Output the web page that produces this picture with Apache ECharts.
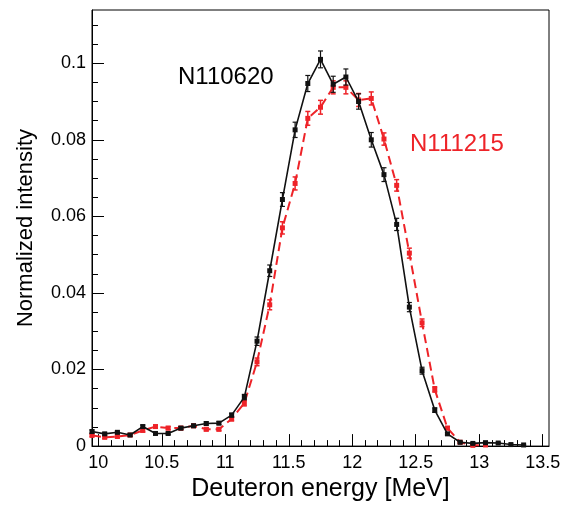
<!DOCTYPE html>
<html lang="en">
  <head>
    <meta charset="UTF-8" />
    <title>Deuteron energy spectra</title>
    <script src="https://cdn.jsdelivr.net/npm/echarts@6/dist/echarts.min.js"></script>
    <style>
      html, body { margin: 0; padding: 0; background: #fff; }
    </style>
  </head>
  <body>
    <div id="main" style="width: 572px; height: 507px"></div>
    <script>
      // bin centres [MeV]
      var energyA = [9.95, 10.05, 10.15, 10.25, 10.35, 10.45, 10.55, 10.65, 10.75, 10.85,
        10.95, 11.05, 11.15, 11.25, 11.35, 11.45, 11.55, 11.65, 11.75, 11.85,
        11.95, 12.05, 12.15, 12.25, 12.35, 12.45, 12.55, 12.65, 12.75, 12.85,
        12.95, 13.05, 13.15, 13.25, 13.35];
      var energyB = [9.95, 10.05, 10.15, 10.25, 10.35, 10.45, 10.55, 10.65, 10.75, 10.85,
        10.95, 11.05, 11.15, 11.25, 11.35, 11.45, 11.55, 11.65, 11.75, 11.85,
        11.95, 12.05, 12.15, 12.25, 12.35, 12.45, 12.55, 12.65, 12.75, 12.85,
        12.95, 13.05];

      // N110620 (black)
      var valuesA = [0.0038, 0.0032, 0.0036, 0.0029, 0.0051, 0.0033, 0.0033, 0.0047, 0.0053, 0.0059,
        0.0060, 0.0081, 0.0128, 0.0274, 0.0458, 0.0644, 0.0826, 0.0947, 0.1010, 0.0945,
        0.0964, 0.0900, 0.0800, 0.0709, 0.0579, 0.0363, 0.0197, 0.0094, 0.0032, 0.0010,
        0.0007, 0.0009, 0.0008, 0.0004, 0.0003];
      var errorsA = [0.0004, 0.0003, 0.0003, 0.0003, 0.0004, 0.0003, 0.0003, 0.0004, 0.0004, 0.0004,
        0.0004, 0.0005, 0.0007, 0.0011, 0.0015, 0.0018, 0.0020, 0.0021, 0.0022, 0.0021,
        0.0021, 0.0020, 0.0019, 0.0018, 0.0016, 0.0012, 0.0009, 0.0006, 0.0003, 0.0002,
        0.0002, 0.0002, 0.0002, 0.0001, 0.0001];

      // N111215 (red)
      var valuesB = [0.0028, 0.0023, 0.0025, 0.0029, 0.0041, 0.0051, 0.0047, 0.0047, 0.0053, 0.0044,
        0.0044, 0.0071, 0.0112, 0.0220, 0.0369, 0.0570, 0.0686, 0.0856, 0.0885, 0.0937,
        0.0937, 0.0904, 0.0908, 0.0802, 0.0681, 0.0504, 0.0322, 0.0148, 0.0047, 0.0010,
        0.0002, 0.0003];
      var errorsB = [0.0003, 0.0003, 0.0003, 0.0003, 0.0004, 0.0004, 0.0004, 0.0004, 0.0004, 0.0004,
        0.0004, 0.0005, 0.0007, 0.0010, 0.0013, 0.0016, 0.0017, 0.0018, 0.0018, 0.0017,
        0.0017, 0.0017, 0.0017, 0.0016, 0.0015, 0.0013, 0.0010, 0.0007, 0.0004, 0.0002,
        0.0001, 0.0001];

      var xMajor = [10, 10.5, 11, 11.5, 12, 12.5, 13, 13.5];
      var xMinor = [];
      for (var i = 100; i <= 135; i++) xMinor.push(i / 10);
      var yMajor = [0, 0.02, 0.04, 0.06, 0.08, 0.1];
      var yMinor = [];
      for (var j = 0; j <= 22; j++) yMinor.push(j * 0.005);

      var FONT = "'Liberation Sans', Arial, sans-serif";
      var BLACK = "#111111";
      var RED = "#ee2328";

      function pairs(xs, ys) {
        return xs.map(function (x, k) { return [x, ys[k]]; });
      }
      function triples(xs, ys, es) {
        return xs.map(function (x, k) { return [x, ys[k], es[k]]; });
      }

      function errorBars(color, width) {
        return function (params, api) {
          var x = api.value(0), y = api.value(1), e = api.value(2);
          var lo = api.coord([x, y - e]);
          var hi = api.coord([x, y + e]);
          var c = 2.5;
          var st = { stroke: color, lineWidth: width };
          return {
            type: "group",
            children: [
              { type: "line", shape: { x1: lo[0], y1: lo[1], x2: hi[0], y2: hi[1] }, style: st },
              { type: "line", shape: { x1: lo[0] - c, y1: lo[1], x2: lo[0] + c, y2: lo[1] }, style: st },
              { type: "line", shape: { x1: hi[0] - c, y1: hi[1], x2: hi[0] + c, y2: hi[1] }, style: st }
            ]
          };
        };
      }

      var myChart = echarts.init(document.getElementById("main"));

      var option = {
        animation: false,
        backgroundColor: "#fff",
        textStyle: { fontFamily: FONT },
        grid: {
          left: 92, right: 23, top: 10, bottom: 59,
          show: true, borderColor: "#000", borderWidth: 1, backgroundColor: "transparent"
        },
        xAxis: [
          {
            type: "value", min: 9.95, max: 13.55, position: "bottom",
            axisLine: { show: true, lineStyle: { color: "#000", width: 1 } },
            axisTick: { show: true, inside: true, length: 12, customValues: xMajor, lineStyle: { color: "#000" } },
            axisLabel: { customValues: xMajor, fontSize: 18, color: "#000", margin: 8, fontFamily: FONT },
            splitLine: { show: false },
            name: "Deuteron energy [MeV]", nameLocation: "middle", nameGap: 29,
            nameTextStyle: { fontSize: 25, color: "#000", fontFamily: FONT }
          },
          {
            type: "value", min: 9.95, max: 13.55, position: "bottom",
            axisLine: { show: false },
            axisTick: { show: true, inside: true, length: 6, customValues: xMinor, lineStyle: { color: "#000" } },
            axisLabel: { show: false },
            splitLine: { show: false }
          }
        ],
        yAxis: [
          {
            type: "value", min: 0, max: 0.1139, position: "left",
            axisLine: { show: true, lineStyle: { color: "#000", width: 1 } },
            axisTick: { show: true, inside: true, length: 12, customValues: yMajor, lineStyle: { color: "#000" } },
            axisLabel: {
              customValues: yMajor, fontSize: 18, color: "#000", margin: 6, fontFamily: FONT,
              formatter: function (v) { return String(+v.toFixed(3)); }
            },
            splitLine: { show: false },
            name: "Normalized intensity", nameLocation: "middle", nameGap: 55,
            nameTextStyle: { fontSize: 22, color: "#000", fontFamily: FONT }
          },
          {
            type: "value", min: 0, max: 0.1139, position: "left",
            axisLine: { show: false },
            axisTick: { show: true, inside: true, length: 6, customValues: yMinor, lineStyle: { color: "#000" } },
            axisLabel: { show: false },
            splitLine: { show: false }
          }
        ],
        graphic: [
          { type: "text", x: 178, y: 77, style: { text: "N110620", fill: "#000", font: "24px " + FONT, verticalAlign: "middle" } },
          { type: "text", x: 410, y: 144, style: { text: "N111215", fill: RED, font: "24px " + FONT, verticalAlign: "middle" } }
        ],
        series: [
          {
            name: "N111215", type: "line", data: pairs(energyB, valuesB),
            symbol: "rect", symbolSize: 5, showSymbol: true,
            itemStyle: { color: RED },
            lineStyle: { color: RED, width: 2, type: [9, 5] },
            z: 3
          },
          {
            name: "N111215 err", type: "custom", data: triples(energyB, valuesB, errorsB),
            renderItem: errorBars(RED, 1.5), z: 3
          },
          {
            name: "N110620", type: "line", data: pairs(energyA, valuesA),
            symbol: "rect", symbolSize: 5, showSymbol: true,
            itemStyle: { color: BLACK },
            lineStyle: { color: BLACK, width: 1.6 },
            z: 4
          },
          {
            name: "N110620 err", type: "custom", data: triples(energyA, valuesA, errorsA),
            renderItem: errorBars(BLACK, 1.2), z: 4
          }
        ]
      };

      myChart.setOption(option);
    </script>
  </body>
</html>
